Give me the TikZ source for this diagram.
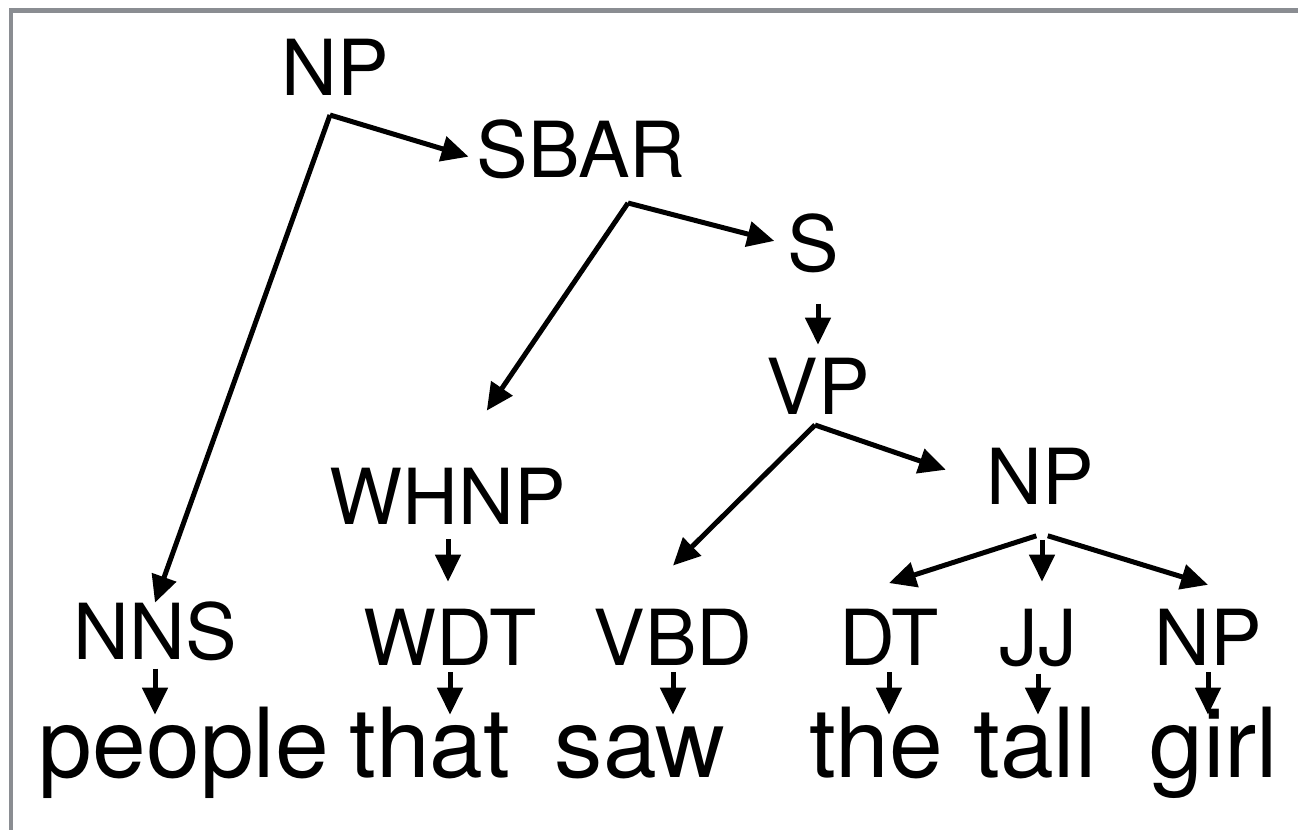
\documentclass[tikz,border=0pt]{standalone}
\usepackage{fontspec}
\setmainfont{TeX Gyre Heros}
\usetikzlibrary{arrows.meta}

\definecolor{framegray}{RGB}{138,141,146}

\tikzstyle{tag} = [font=\fontsize{44}{50}\selectfont, inner sep=0pt, anchor=base, text height=1.14cm]
\tikzstyle{word} = [font=\fontsize{55}{60}\selectfont, inner sep=0pt, anchor=base, text height=1.24cm]
\tikzstyle{arrow} = [line width=0.1cm, -{Triangle[length=0.54cm, width=0.5cm]}]
\tikzstyle{frame} = [draw=framegray, line width=0.1cm]

\begin{document}
\begin{tikzpicture}[x=0.02cm, y=-0.02cm]

\useasboundingbox (0,0) rectangle (1298,830);
\draw[frame] (11,830) -- (11,11) -- (1298,11);

% phrase labels
\node (np) [tag] at (335,96) {NP};
\node (sbar) [tag] at (581,178) {SBAR};
\node (s) [tag] at (813,272) {S};
\node (vp) [tag] at (818,415) {VP};
\node (whnp) [tag] at (448,525) {WHNP};
\node (objnp) [tag] at (1040,505) {NP};

% part of speech labels
\node (nns) [tag] at (155,660) {NNS};
\node (wdt) [tag] at (450,665) {WDT};
\node (vbd) [tag] at (673,665) {VBD};
\node (dt) [tag] at (889,665) {DT};
\node (jj) [tag] at (1038,665) {JJ};
\node (nnp) [tag] at (1208,665) {NP};

% words
\node (people) [word] at (184,777) {people};
\node (that) [word] at (430,777) {that};
\node (saw) [word] at (640,777) {saw};
\node (the) [word] at (876,777) {the};
\node (tall) [word] at (1035,777) {tall};
\node (girl) [word] at (1214,777) {girl};

% branch points
\coordinate (np-fork) at (330,115);
\coordinate (sbar-fork) at (628,203);
\coordinate (vp-fork) at (815,425);
\coordinate (objnp-fork) at (1042,534);

\draw[arrow] (np-fork) -- (nns.north);
\draw[arrow, shorten >=0.16cm] (np-fork) -- ([yshift=-5pt]sbar.west);
\draw[arrow, shorten >=1.38cm] (sbar-fork) -- (whnp.north);
\draw[arrow, shorten >=0.26cm] (sbar-fork) -- (s.west);
\draw[arrow, shorten <=0.6cm, shorten >=0.26cm] (vp.north |- s.south) -- (vp.north);
\draw[arrow] (vp-fork) -- ([yshift=24pt]vbd.north);
\draw[arrow, shorten >=0.85cm] (vp-fork) -- ([yshift=-4pt]objnp.west);
\draw[arrow, shorten <=0.12cm] (objnp-fork) -- ([yshift=14pt]dt.north);
\draw[arrow, shorten <=0.12cm, shorten >=0.52cm] (objnp-fork) -- (objnp-fork |- jj.north);
\draw[arrow, shorten <=0.12cm] (objnp-fork) -- ([yshift=13pt]nnp.north);
\draw[arrow, shorten <=0.28cm, shorten >=0.52cm] (whnp.south) -- (whnp.south |- wdt.north);

\draw[arrow, shorten <=0.14cm] (nns.south) -- (nns.south |- people.north);
\draw[arrow, shorten <=0.14cm] (wdt.south) -- (wdt.south |- that.north);
\draw[arrow, shorten <=0.14cm] (vbd.south) -- (vbd.south |- saw.north);
\draw[arrow, shorten <=0.14cm] (dt.south) -- (dt.south |- the.north);
\draw[arrow, shorten <=0.14cm] (jj.south) -- (jj.south |- tall.north);
\draw[arrow, shorten <=0.14cm] (nnp.south) -- (nnp.south |- girl.north);

\end{tikzpicture}
\end{document}
